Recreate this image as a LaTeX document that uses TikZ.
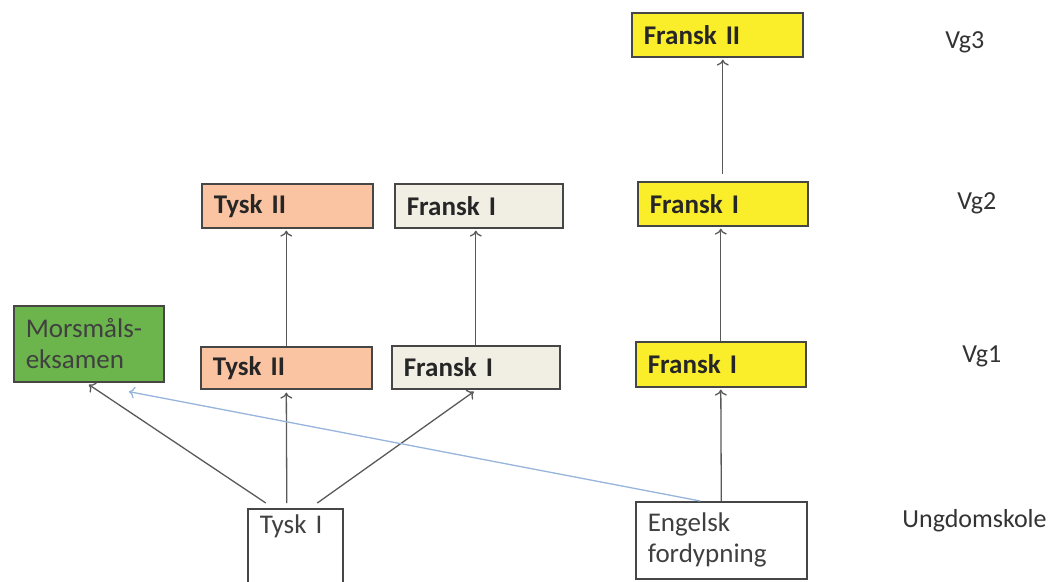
\documentclass[tikz,border=0pt]{standalone}
\usepackage{fontspec}
\setmainfont{Carlito}
\usepackage{tikz}
\usetikzlibrary{arrows.meta}
\definecolor{cG}{RGB}{108,180,76}
\definecolor{cY}{RGB}{250,238,42}
\definecolor{cO}{RGB}{250,196,162}
\definecolor{cT}{RGB}{241,238,228}
\definecolor{cL}{RGB}{150,180,220}
\definecolor{cD}{RGB}{70,70,70}
\newcommand{\boxfont}{\fontsize{13.5}{15.5}\selectfont}
\tikzset{mybox/.style={
  shape=rectangle,
  draw=cD,
  line width=0.8pt,
  anchor=north west,
  inner xsep=6pt,
  text=black!85,
  font=\boxfont\bfseries,
  }
}
\tikzset{mybox2/.style={
  mybox,
  text=black!75,
  font=\boxfont,
  }
}
\tikzset{mylabel/.style={
  anchor=west,
  inner sep=0pt,
  text=black!80,
  font=\fontsize{13}{15}\selectfont,
  }
}
\tikzset{myline/.style={
  -{To[length=3pt, width=6pt]},
  draw=black!65,
  line width=0.65pt,
  }
}

\begin{document}
\begin{tikzpicture}[x=0.5pt, y=-0.5pt]
      \clip (0,0) rectangle (1053,582);
      \node [mybox, fill=cY, text width=73.5pt, minimum height=22pt] (f2) at (631,12) {Fransk II};
      \node [mybox, fill=cO, text width=73.5pt, minimum height=22pt] (t2b) at (201,183) {Tysk II};
      \node [mybox, fill=cT, text width=72pt, minimum height=22pt] (f1b) at (394,183) {Fransk I};
      \node [mybox, fill=cY, text width=73pt, minimum height=22pt] (f1yb) at (637,181) {Fransk I};
      \node [mybox2, fill=cG, text width=63pt, minimum height=38pt] (m) at (13,305) {Morsmåls-\\eksamen};
      \node [mybox, fill=cO, text width=73.5pt, minimum height=21pt] (t2a) at (200,346) {Tysk II};
      \node [mybox, fill=cT, text width=72pt, minimum height=21.5pt] (f1a) at (391,345) {Fransk I};
      \node [mybox, fill=cY, text width=73pt, minimum height=22.5pt] (f1ya) at (635,341) {Fransk I};
      \node [mybox2, fill=white, text width=35.5pt, text height=9.5pt, text depth=40pt, inner ysep=3pt] (t1) at (247,508) {Tysk I};
      \node [mybox2, fill=white, text width=73.5pt, minimum height=38.5pt] (e) at (635,501) {Engelsk\\fordypning};

      \node [mylabel] (vg3) at (945,42) {Vg3};
      \node [mylabel] (vg2) at (957,203) {Vg2};
      \node [mylabel] (vg1) at (962,356) {Vg1};
      \node [mylabel] (us) at (902,521) {Ungdomskole};

      % arrows
      \draw [myline] ([xshift=-14.75pt, yshift=2.5pt]t1.north) -- ([yshift=-1pt]m.south);
      \draw [myline] ([xshift=-4.25pt, yshift=2.5pt]t1.north) -- ([yshift=-1.5pt]t2a.south);
      \draw [myline] ([xshift=11pt, yshift=2.5pt]t1.north) -- ([xshift=-1pt, yshift=-1pt]f1a.south);
      \draw [myline, draw=cL] ([xshift=-10.5pt]e.north) -- ([xshift=20pt, yshift=-4.5pt]m.south);
      \draw [myline] (e.north) -- ([yshift=-1pt]f1ya.south);
      \draw [myline] (f1ya.north) -- ([yshift=-1pt]f1ya.north |- f1yb.south);
      \draw [myline, shorten <=3.5pt] (f1yb.north) -- ([yshift=-1pt]f1yb.north |- f2.south);
      \draw [myline] (t2a.north) -- ([yshift=-1pt]t2a.north |- t2b.south);
      \draw [myline] (f1a.north) -- ([yshift=-1pt]f1a.north |- f1b.south);
\end{tikzpicture}
\end{document}
